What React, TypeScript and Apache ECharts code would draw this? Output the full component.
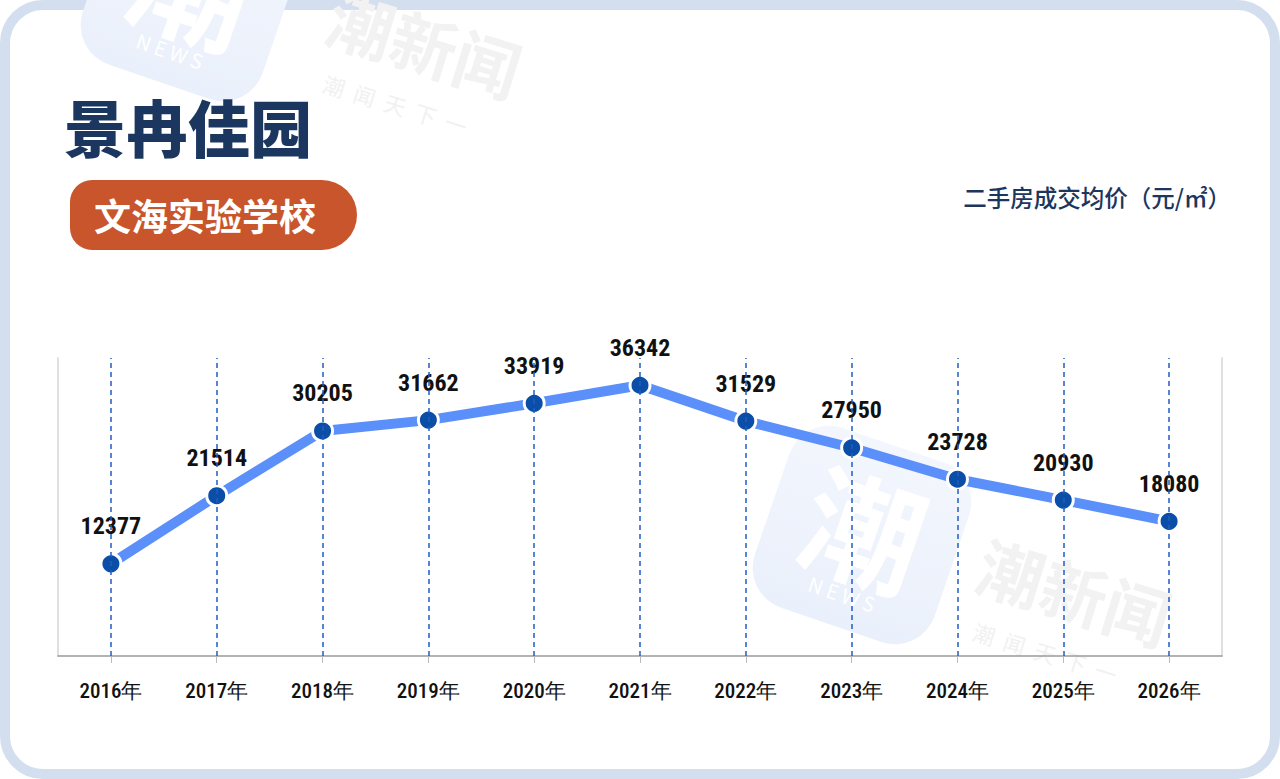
import React, { useEffect, useRef } from "react";
import * as echarts from "echarts";

const categories = ["2016年", "2017年", "2018年", "2019年", "2020年", "2021年", "2022年", "2023年", "2024年", "2025年", "2026年"];
const prices = [12377, 21514, 30205, 31662, 33919, 36342, 31529, 27950, 23728, 20930, 18080];
const title = "景冉佳园";
const badge = "文海实验学校";
const unitLabel = "二手房成交均价（元/㎡）";

const NAVY = "#1b365f";
const NUM_FONT = "'Liberation Sans Narrow', 'Roboto Condensed', Roboto, sans-serif";
const CJK = "'Noto Sans CJK SC', 'Noto Sans', sans-serif";

function watermark(cx: number, cy: number, tx: number, ty: number) {
  return [
    {
      type: "group",
      x: cx,
      y: cy,
      rotation: -0.33,
      z: -4,
      silent: true,
      children: [
        {
          type: "rect",
          shape: { x: -95, y: -95, width: 190, height: 190, r: 42 },
          style: {
            fill: new echarts.graphic.LinearGradient(0, 0, 0, 1, [
              { offset: 0, color: "#f3f6fd" },
              { offset: 1, color: "#eaf0fb" },
            ]),
          },
        },
        { type: "text", x: 0, y: -10, style: { text: "潮", fill: "#ffffff", font: `bold 120px ${CJK}`, align: "center", verticalAlign: "middle" } },
        { type: "text", x: 0, y: 62, style: { text: "N E W S", fill: "#ffffff", font: `20px ${CJK}`, align: "center", verticalAlign: "middle" } },
      ],
    },
    {
      type: "group",
      x: tx,
      y: ty,
      rotation: -0.3,
      z: -4,
      silent: true,
      children: [
        { type: "text", x: 0, y: 0, style: { text: "潮新闻", fill: "#f2f2f2", font: `bold 66px ${CJK}`, align: "center", verticalAlign: "middle" } },
        { type: "text", x: -10, y: 68, style: { text: "潮  闻  天  下  一", fill: "#f1f1f1", font: `22px ${CJK}`, align: "center", verticalAlign: "middle" } },
      ],
    },
  ];
}

export default function App() {
  const ref = useRef<HTMLDivElement>(null);
  useEffect(() => {
    document.body.style.margin = "0";
    const chart = echarts.init(ref.current!, null, { renderer: "svg" });
    chart.setOption({
      animation: false,
      backgroundColor: "#ffffff",
      grid: { left: 58, right: 58, top: 358, bottom: 123 },
      xAxis: {
        type: "category",
        data: categories,
        boundaryGap: true,
        axisLine: { show: true, lineStyle: { color: "#9a9a9a", width: 1.5 } },
        axisTick: { show: true, alignWithLabel: true, length: 7, lineStyle: { color: "#bbbbbb" } },
        axisLabel: { color: "#111111", fontSize: 21, fontFamily: NUM_FONT, fontWeight: 500, margin: 24 },
        splitLine: { show: false },
      },
      yAxis: [
        {
          type: "value",
          min: 0,
          max: 40000,
          position: "left",
          axisLine: { show: true, lineStyle: { color: "#d6d6d6", width: 1.5 } },
          axisTick: { show: false },
          axisLabel: { show: false },
          splitLine: { show: false },
        },
        {
          type: "value",
          min: 0,
          max: 40000,
          position: "right",
          axisLine: { show: true, lineStyle: { color: "#d6d6d6", width: 1.5 } },
          axisTick: { show: false },
          axisLabel: { show: false },
          splitLine: { show: false },
        },
      ],
      graphic: [
        {
          type: "rect",
          z: -5,
          silent: true,
          shape: { x: 5, y: 5, width: 1270, height: 769, r: 38 },
          style: { fill: "#ffffff", stroke: "#d3deef", lineWidth: 10 },
        },
        ...watermark(190, -8, 425, 42),
        ...watermark(862, 535, 1075, 590),
        {
          type: "text",
          x: 64,
          y: 126,
          style: { text: title, fill: NAVY, font: `900 62px ${CJK}`, verticalAlign: "middle" },
        },
        {
          type: "rect",
          shape: { x: 70, y: 180, width: 287, height: 70, r: [22, 35, 35, 22] },
          style: { fill: "#c9552c" },
        },
        {
          type: "text",
          x: 94,
          y: 215,
          style: { text: badge, fill: "#ffffff", font: `bold 37px ${CJK}`, verticalAlign: "middle" },
        },
        {
          type: "text",
          x: 1231,
          y: 197,
          style: { text: unitLabel, fill: NAVY, font: `500 23.5px ${CJK}`, align: "right", verticalAlign: "middle" },
        },
      ],
      series: [
        {
          type: "line",
          data: [],
          z: 1,
          silent: true,
          markLine: {
            silent: true,
            symbol: "none",
            label: { show: false },
            lineStyle: { type: [5, 4], color: "#1f5ec2", width: 1.5 },
            data: categories.map((c) => ({ xAxis: c })),
          },
        },
        {
          type: "line",
          data: prices,
          z: 3,
          symbol: "circle",
          symbolSize: 20,
          lineStyle: { color: "#5b8ff9", width: 10 },
          itemStyle: { color: "#0a4ea8", borderColor: "#ffffff", borderWidth: 3 },
          label: {
            show: true,
            position: "top",
            distance: 14,
            color: "#111111",
            fontSize: 24,
            fontWeight: "bold",
            fontFamily: NUM_FONT,
          },
        },
      ],
    });
    return () => chart.dispose();
  }, []);
  return <div ref={ref} style={{ position: "absolute", left: 0, top: 0, width: 1280, height: 779 }} />;
}
